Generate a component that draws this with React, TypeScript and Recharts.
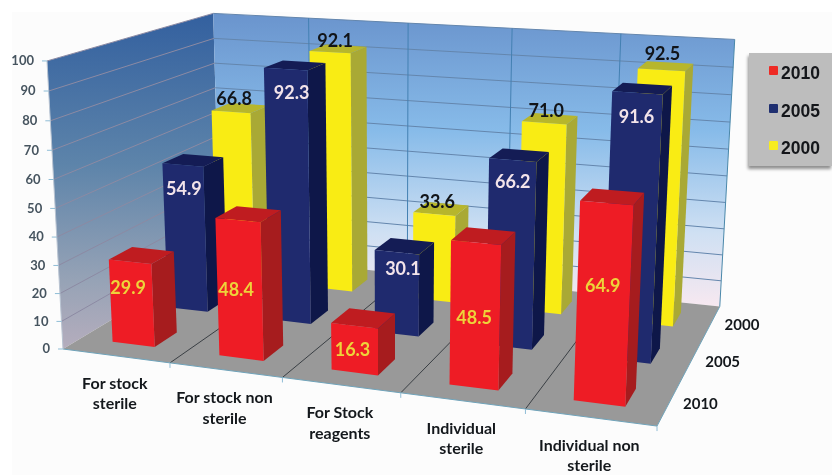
import React from "react";
import { BarChart, Bar, XAxis, YAxis, Legend } from "recharts";

const categories = ["For stock sterile", "For stock non sterile", "For Stock reagents", "Individual sterile", "Individual non sterile"];
const categoryLines = [["For stock", "sterile"], ["For stock non", "sterile"], ["For Stock", "reagents"], ["Individual", "sterile"], ["Individual non", "sterile"]];
const values2010 = [29.9, 48.4, 16.3, 48.5, 64.9];
const values2005 = [54.9, 92.3, 30.1, 66.2, 91.6];
const values2000 = [66.8, 92.1, 33.6, 71.0, 92.5];
const years = ["2010", "2005", "2000"];
const yTicks = [0, 10, 20, 30, 40, 50, 60, 70, 80, 90, 100];

const data = categories.map((name, i) => ({ name, y2010: values2010[i], y2005: values2005[i], y2000: values2000[i] }));

const W = 832, H = 475;
const M = { left: 50, right: 50, top: 50, bottom: 50 };
const CHART_MARGIN = { left: 49, right: 50, top: 49, bottom: 49 };
const PW = W - M.left - M.right;
const PH = H - M.top - M.bottom;
const BAR = (PW / 5) * 0.4;
const FONT = "Lato, 'Open Sans', sans-serif";

// Pinhole projection fitted to the picture: X along categories, D into depth, Z up (all 0..1)
function project(X: number, D: number, Z: number): [number, number] {
  const w = 1 - 0.12135 * X + 0.2039 * D - 0.0468 * Z;
  const x = 63 + 514.3 * X + 201.9 * D - 18.2 * Z;
  const y = 349 + 25.36 * X - 42.6 * D - 290.9 * Z;
  return [x / w, y / w];
}
const pts = (list: number[][]) => list.map((p) => project(p[0], p[1], p[2]).map((n) => n.toFixed(1)).join(",")).join(" ");

function Line3D({ a, b, stroke, sw = 1 }: any) {
  const [x1, y1] = project(a[0], a[1], a[2]);
  const [x2, y2] = project(b[0], b[1], b[2]);
  return <line x1={x1} y1={y1} x2={x2} y2={y2} stroke={stroke} strokeWidth={sw} />;
}

function Scene() {
  const edges = categories.slice(1).map((_, i) => (i + 1) / categories.length);
  return (
    <g>
      <defs>
        <linearGradient id="leftWall" x1="0" y1="0" x2="0" y2="1">
          <stop offset="0" stopColor="#33609f" />
          <stop offset="0.45" stopColor="#5d84aa" />
          <stop offset="0.8" stopColor="#97a3b6" />
          <stop offset="1" stopColor="#b5adbd" />
        </linearGradient>
        <linearGradient id="backWall" x1="0" y1="0" x2="0" y2="1">
          <stop offset="0" stopColor="#6a94cd" />
          <stop offset="0.4" stopColor="#87bbe9" />
          <stop offset="0.75" stopColor="#cfe0f3" />
          <stop offset="1" stopColor="#f7e8f0" />
        </linearGradient>
      </defs>
      <polygon points={pts([[0, 0, 0], [0, 1, 0], [0, 1, 1], [0, 0, 1]])} fill="url(#leftWall)" />
      <polygon points={pts([[0, 1, 0], [1, 1, 0], [1, 1, 1], [0, 1, 1]])} fill="url(#backWall)" />
      <polygon points={pts([[0, 0, 0], [1, 0, 0], [1, 1, 0], [0, 1, 0]])} fill="#999999" />
      {yTicks.filter((t) => t > 0).map((t) => (
        <g key={t}>
          <Line3D a={[0, 0, t / 100]} b={[0, 1, t / 100]} stroke="#8c8aa3" />
          <Line3D a={[0, 1, t / 100]} b={[1, 1, t / 100]} stroke="#6486ad" />
        </g>
      ))}
      {edges.map((e) => (
        <g key={e}>
          <Line3D a={[e, 0, 0]} b={[e, 1, 0]} stroke="#3a3f44" />
          <Line3D a={[e, 1, 0]} b={[e, 1, 1]} stroke="#4380b2" />
        </g>
      ))}
      <Line3D a={[0, 0, 0]} b={[1, 0, 0]} stroke="#6fa3ba" />
      <Line3D a={[1, 0, 0]} b={[1, 1, 0]} stroke="#6fa3ba" />
      <Line3D a={[1, 1, 0]} b={[1, 1, 1]} stroke="#4a88aa" />
      <Line3D a={[0, 0, 0]} b={[0, 0, 1]} stroke="#b9c4d2" />
    </g>
  );
}

function YTick({ payload }: any) {
  const z = payload.value / 100;
  const [px, py] = project(0, 0, z);
  return (
    <g>
      <line x1={px - 5} y1={py} x2={px} y2={py} stroke="#8fbdd6" />
      <text x={px - 13} y={py + 1} textAnchor="end" dominantBaseline="middle" fontFamily={FONT} fontSize={13} fontWeight={700} fill="#46545f">
        {payload.value}
      </text>
    </g>
  );
}

function XTick({ payload, index }: any) {
  const X = (index + 0.5) / 5;
  const [px, py] = project(X, 0, 0);
  const edge = (index + 1) / 5;
  const [ex, ey] = project(edge, 0, 0);
  const lines = categoryLines[index] || [payload.value];
  return (
    <g>
      <line x1={ex} y1={ey} x2={ex} y2={ey + 5} stroke="#8fbdd6" />
      {lines.map((t: string, i: number) => (
        <text key={t} x={px - 1} y={py + 29 + i * 20.5} textAnchor="middle" dominantBaseline="middle" fontFamily={FONT} fontSize={16} fontWeight={700} fill="#14181c">
          {t}
        </text>
      ))}
    </g>
  );
}

function DepthTick({ payload }: any) {
  const D = payload.value / 3;
  const [px, py] = project(1, D, 0);
  const row = Math.floor(payload.value);
  return (
    <text x={px + 31} y={py + 3} textAnchor="middle" dominantBaseline="middle" fontFamily={FONT} fontSize={15} fontWeight={700} fill="#14181c">
      {years[row]}
    </text>
  );
}

// Hand placement of the value labels in the reference, relative to each bar's default spot
const labelShiftX = [[-2, -2, -2, -2, -4], [1, 6, 6, 0, -1], [0, 2, 0, -1, -2]];
const labelShiftY = [[-11, 5, 5, 7, -13], [1, 1, -6, -1, 1], [2, 4, 3, 3, -1]];

function makeBox(row: number, colors: string[], labelFill: string) {
  return function Box(props: any) {
    const { x, y, width, value, index } = props;
    const X0 = (x - M.left) / PW;
    const X1 = (x + width - M.left) / PW;
    const Z = (H - M.bottom - y) / PH;
    const D0 = (row + 0.3) / 3;
    const D1 = (row + 0.7) / 3;
    const v = Array.isArray(value) ? value[1] : value;
    const [tlx, tly] = project(X0, D0, Z);
    const [trx] = project(X1, D0, Z);
    const [, bly] = project(X0, D0, 0);
    let cx = (tlx + trx) / 2;
    let ly = tly + 26;
    if (row === 0) ly = (tly + bly) / 2;
    if (row === 2) {
      cx += 3;
      ly = tly - 12;
    }
    cx += labelShiftX[row][index];
    ly += labelShiftY[row][index];
    return (
      <g>
        <polygon points={pts([[X1, D0, 0], [X1, D1, 0], [X1, D1, Z], [X1, D0, Z]])} fill={colors[1]} />
        <polygon points={pts([[X0, D0, Z], [X1, D0, Z], [X1, D1, Z], [X0, D1, Z]])} fill={colors[2]} />
        <polygon points={pts([[X0, D0, 0], [X1, D0, 0], [X1, D0, Z], [X0, D0, Z]])} fill={colors[0]} />
        <text x={cx} y={ly} textAnchor="middle" dominantBaseline="middle" fontFamily={FONT} fontSize={18} fontWeight={700} fill={labelFill}>
          {v.toFixed(1)}
        </text>
      </g>
    );
  };
}

const Red = makeBox(0, ["#ee1c25", "#a61c1e", "#bf1c20"], "#eed33a");
const Navy = makeBox(1, ["#1f2a6e", "#0e1749", "#141c55"], "#f3e4ea");
const Yellow = makeBox(2, ["#f9ec14", "#a9a935", "#b7b62c"], "#111418");

const legendColors = ["#ee2a24", "#1f2f70", "#f7ec20"];

function LegendBox() {
  return (
    <div style={{ width: 83, height: 113, background: "#bdbdbd", boxShadow: "-1px 3px 3px #8f8f8f", position: "relative" }}>
      {years.map((yr, i) => (
        <div key={yr} style={{ position: "absolute", left: 0, top: 12 + i * 37.5, height: 16, width: 83 }}>
          <span style={{ position: "absolute", left: 20, top: 1, width: 9, height: 9, background: legendColors[i], borderRadius: 1 }} />
          <span style={{ position: "absolute", left: 32, top: -2, fontFamily: "'Liberation Sans', Arial, sans-serif", fontWeight: 700, fontSize: 17.5, color: "#14161a", lineHeight: "20px" }}>{yr}</span>
        </div>
      ))}
    </div>
  );
}

export default function App() {
  return (
    <div style={{ position: "absolute", left: 0, top: 0, width: W, height: H, background: "#ffffff", overflow: "hidden" }}>
      <div style={{ position: "absolute", left: 12, top: 12, width: W - 12, height: H - 12, background: "#fcfcfc" }} />
      <div style={{ position: "absolute", left: 0, top: 0, filter: "blur(0.4px)" }}>
        <BarChart width={W} height={H} data={data} margin={CHART_MARGIN} barSize={BAR} barGap={-BAR}>
          <Scene />
          <YAxis type="number" domain={[0, 100]} ticks={yTicks} width={1} axisLine={false} tickLine={false} tick={YTick} interval={0} />
          <XAxis dataKey="name" height={1} axisLine={false} tickLine={false} tick={XTick} interval={0} />
          <XAxis xAxisId="depth" type="number" orientation="top" domain={[0, 3]} ticks={[0.5, 1.5, 2.5]} height={1} axisLine={false} tickLine={false} tick={DepthTick} interval={0} />
          <Bar dataKey="y2000" isAnimationActive={false} shape={Yellow} />
          <Bar dataKey="y2005" isAnimationActive={false} shape={Navy} />
          <Bar dataKey="y2010" isAnimationActive={false} shape={Red} />
          <Legend layout="vertical" align="center" verticalAlign="middle" content={LegendBox} wrapperStyle={{ left: 749, top: 53, width: 83, height: 113 }} />
        </BarChart>
      </div>
    </div>
  );
}
